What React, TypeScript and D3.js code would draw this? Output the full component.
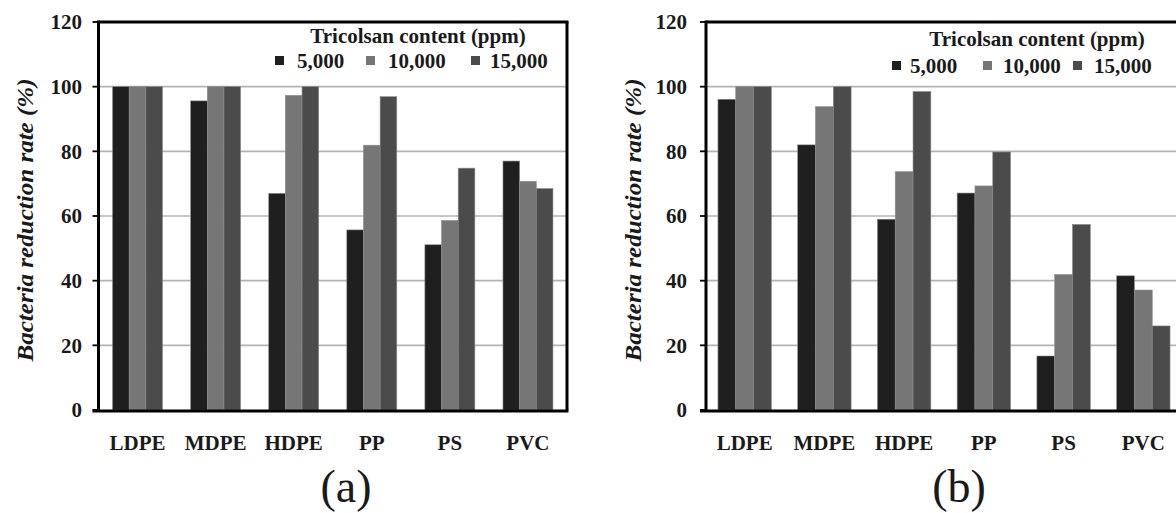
import React from "react";
import * as d3 from "d3";

const categories = ["LDPE", "MDPE", "HDPE", "PP", "PS", "PVC"];
const seriesNames = ["5,000", "10,000", "15,000"];
const seriesColors = ["#1f1f1f", "#767676", "#4b4b4b"];
const yTicks = [0, 20, 40, 60, 80, 100, 120];

const panelA_5000 = [100, 95.6, 67.0, 55.7, 51.1, 77.0];
const panelA_10000 = [100, 100, 97.3, 81.9, 58.6, 70.7];
const panelA_15000 = [100, 100, 100, 96.9, 74.8, 68.5];

const panelB_5000 = [96.1, 82.0, 59.0, 67.1, 16.7, 41.5];
const panelB_10000 = [100, 93.8, 73.7, 69.3, 41.9, 37.1];
const panelB_15000 = [100, 100, 98.5, 79.8, 57.4, 26.0];

const legendTitle = "Tricolsan content (ppm)";
const yTitle = "Bacteria reduction rate (%)";

const FONT = "Liberation Serif";

type PanelCfg = {
  label: string;
  data: number[][];
  x0: number;
  x1: number;
  drawRight: boolean;
  padInner: number;
  padOuter: number;
  tickRight: number;
  titleX: number;
  legendTitleX: number;
  legendTitleY: number;
  legendSquares: number[];
  legendTexts: number[];
  legendY: number;
  labelX: number;
};

const Y0 = 410;
const Y1 = 22;

function Panel({ cfg }: { cfg: PanelCfg }) {
  const y = d3.scaleLinear().domain([0, 120]).range([Y0, Y1]);
  const x = d3
    .scaleBand<string>()
    .domain(categories)
    .range([cfg.x0, cfg.x1])
    .paddingInner(cfg.padInner)
    .paddingOuter(cfg.padOuter);
  const xs = d3
    .scaleBand<string>()
    .domain(seriesNames)
    .range([0, x.bandwidth()]);
  const ts = { fontFamily: FONT, fontWeight: 700 } as React.CSSProperties;

  return (
    <g>
      {yTicks
        .filter((t) => t > 0 && t < 120)
        .map((t) => (
          <line
            key={"g" + t}
            x1={cfg.x0}
            x2={cfg.x1}
            y1={y(t)}
            y2={y(t)}
            stroke="#b4b4b4"
            strokeWidth={1.6}
          />
        ))}
      {categories.map((c, i) =>
        seriesNames.map((s, j) => {
          const v = cfg.data[j][i];
          return (
            <rect
              key={c + s}
              x={(x(c) as number) + (xs(s) as number)}
              y={y(v)}
              width={xs.bandwidth()}
              height={Y0 - y(v)}
              fill={seriesColors[j]}
              stroke="#8c8c8c"
              strokeWidth={0.6}
            />
          );
        })
      )}
      <line x1={cfg.x0} x2={cfg.x1 + 1.5} y1={Y1} y2={Y1} stroke="#000" strokeWidth={3} />
      {cfg.drawRight && (
        <line x1={cfg.x1} x2={cfg.x1} y1={Y1} y2={Y0} stroke="#000" strokeWidth={3} />
      )}
      <line x1={cfg.x0} x2={cfg.x0} y1={Y1 - 1.5} y2={Y0 + 1.5} stroke="#000" strokeWidth={3} />
      <line x1={cfg.x0 - 6} x2={cfg.x1 + 1.5} y1={Y0 + 1} y2={Y0 + 1} stroke="#000" strokeWidth={3} />
      {yTicks.map((t) => (
        <g key={"t" + t}>
          <line x1={cfg.x0 - 6} x2={cfg.x0} y1={y(t)} y2={y(t)} stroke="#000" strokeWidth={1.8} />
          <text
            x={cfg.tickRight}
            y={y(t)}
            dy="0.35em"
            textAnchor="end"
            style={{ ...ts, fontSize: 21 }}
            fill="#1a1a1a"
          >
            {t}
          </text>
        </g>
      ))}
      <text
        transform={`translate(${cfg.titleX},220) rotate(-90)`}
        dy="0.35em"
        textAnchor="middle"
        style={{ ...ts, fontStyle: "italic", fontSize: 23 }}
        textLength={283}
        lengthAdjust="spacingAndGlyphs"
        fill="#1a1a1a"
      >
        {yTitle}
      </text>
      {categories.map((c) => (
        <text
          key={"c" + c}
          x={(x(c) as number) + x.bandwidth() / 2}
          y={450}
          textAnchor="middle"
          style={{ ...ts, fontSize: 21 }}
          fill="#1a1a1a"
        >
          {c}
        </text>
      ))}
      <text
        x={cfg.legendTitleX}
        y={cfg.legendTitleY}
        textAnchor="middle"
        style={{ ...ts, fontSize: 21 }}
        fill="#1a1a1a"
      >
        {legendTitle}
      </text>
      {seriesNames.map((s, j) => (
        <g key={"l" + s}>
          <rect
            x={cfg.legendSquares[j]}
            y={cfg.legendY - 12}
            width={9}
            height={9}
            fill={seriesColors[j]}
          />
          <text
            x={cfg.legendTexts[j]}
            y={cfg.legendY}
            style={{ ...ts, fontSize: 21 }}
            fill="#1a1a1a"
          >
            {s}
          </text>
        </g>
      ))}
      <text
        x={cfg.labelX}
        y={502}
        textAnchor="middle"
        style={{ fontFamily: FONT, fontWeight: 400, fontSize: 46 }}
        fill="#1a1a1a"
      >
        {cfg.label}
      </text>
    </g>
  );
}

const panelA: PanelCfg = {
  label: "(a)",
  data: [panelA_5000, panelA_10000, panelA_15000],
  x0: 98.5,
  x1: 567,
  drawRight: true,
  padInner: 0.36,
  padOuter: 0.18,
  tickRight: 82,
  titleX: 25,
  legendTitleX: 418,
  legendTitleY: 43,
  legendSquares: [275, 366, 471],
  legendTexts: [297, 388, 490],
  legendY: 68,
  labelX: 346,
};

const panelB: PanelCfg = {
  label: "(b)",
  data: [panelB_5000, panelB_10000, panelB_15000],
  x0: 706,
  x1: 1182,
  drawRight: true,
  padInner: 0.33,
  padOuter: 0.15,
  tickRight: 687,
  titleX: 633,
  legendTitleX: 1037,
  legendTitleY: 46,
  legendSquares: [892, 983, 1073],
  legendTexts: [910, 1003, 1094],
  legendY: 73,
  labelX: 959,
};

export default function App() {
  return (
    <svg
      width={1176}
      height={513}
      viewBox="0 0 1176 513"
      style={{ position: "absolute", left: 0, top: 0, background: "#fff", display: "block" }}
    >
      <rect width={1176} height={513} fill="#fff" />
      <Panel cfg={panelA} />
      <Panel cfg={panelB} />
    </svg>
  );
}
